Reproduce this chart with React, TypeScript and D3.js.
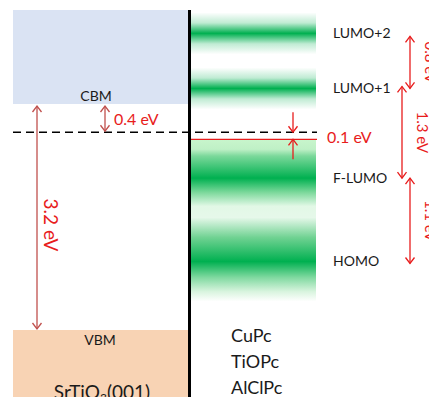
import React from "react";
import * as d3 from "d3";

// ---- data (energies in eV relative to the Fermi level, dashed line) ----
const substrateLevels = ["CBM", "VBM"];
const substrateEnergies = [0.4, -2.8];
const fermiEnergy = 0;
const onsetEnergy = -0.1; // F-LUMO onset (red line)
const orbitalNames = ["LUMO+2", "LUMO+1", "F-LUMO", "HOMO"];
const orbitalEnergies = [1.4, 0.62, -0.65, -1.83];
const gapLabels = ["0.8 eV", "1.3 eV", "1.1 eV"];
const substrateGapLabel = "3.2 eV";
const cbmOffsetLabel = "0.4 eV";
const onsetLabel = "0.1 eV";
const moleculeNames = ["CuPc", "TiOPc", "AlClPc"];

const W = 429;
const H = 397;
const FONT = "Lato, 'Open Sans', sans-serif";
const RED = "#e81c1c";
const DARKRED = "#c0504d";
const GREEN = "#00b050";
const INK = "#1a1a1a";

const y = d3
  .scaleLinear()
  .domain([substrateEnergies[0], substrateEnergies[1]])
  .range([104, 330]);

function Head({ x, yy, dir, color }: { x: number; yy: number; dir: 1 | -1; color: string }) {
  // dir = -1 -> points up, 1 -> points down
  const p = d3.path();
  p.moveTo(x - 4.5, yy - dir * 6);
  p.lineTo(x, yy);
  p.lineTo(x + 4.5, yy - dir * 6);
  return <path d={p.toString()} fill="none" stroke={color} strokeWidth={1.3} />;
}

function DoubleArrow({ x, y1, y2, color }: { x: number; y1: number; y2: number; color: string }) {
  return (
    <g>
      <line x1={x} x2={x} y1={y1} y2={y2} stroke={color} strokeWidth={1.3} />
      <Head x={x} yy={y1} dir={-1} color={color} />
      <Head x={x} yy={y2} dir={1} color={color} />
    </g>
  );
}

export default function App() {
  const yCBM = y(substrateEnergies[0]);
  const yVBM = y(substrateEnergies[1]);
  const yF = y(fermiEnergy);
  const yOn = y(onsetEnergy);
  const yO = orbitalEnergies.map((e) => y(e));
  const bandHalf = 21;

  const lowTop = yOn;
  const lowBot = yO[3] + 40;
  const frac = (v: number) => (v - lowTop) / (lowBot - lowTop);

  const lowStops: [number, string][] = [
    [lowTop, "#c8f5cc"],
    [lowTop + 10, "#bff0c6"],
    [yO[2] - 22, "#7ad89a"],
    [yO[2], GREEN],
    [yO[2] + 14, "#7ad89a"],
    [yO[2] + 28, "#e2f8e6"],
    [yO[3] - 44, "#e6f8ea"],
    [yO[3] - 24, "#70d292"],
    [yO[3], GREEN],
    [yO[3] + 16, "#80d9a0"],
    [yO[3] + 30, "#d8f4de"],
    [lowBot, "#ffffff"],
  ];

  const gx0 = 191;
  const gx1 = 316;
  const arrowX = [410, 402, 410];
  const labelX = [425, 417, 425];

  return (
    <svg width={W} height={H} style={{ position: "absolute", left: 0, top: 0 }} fontFamily={FONT}>
      <defs>
        <linearGradient id="band" x1="0" x2="0" y1="0" y2="1">
          <stop offset="0" stopColor={GREEN} stopOpacity={0} />
          <stop offset="0.25" stopColor={GREEN} stopOpacity={0.25} />
          <stop offset="0.5" stopColor={GREEN} stopOpacity={1} />
          <stop offset="0.75" stopColor={GREEN} stopOpacity={0.25} />
          <stop offset="1" stopColor={GREEN} stopOpacity={0} />
        </linearGradient>
        <linearGradient id="low" x1="0" x2="0" y1="0" y2="1">
          {lowStops.map(([v, c], i) => (
            <stop key={i} offset={frac(v)} stopColor={c} />
          ))}
        </linearGradient>
      </defs>
      <rect width={W} height={H} fill="#fff" />

      {/* substrate */}
      <rect x={13} y={10} width={176} height={yCBM - 10} fill="#dae3f3" />
      <rect x={13} y={yVBM} width={176} height={H - yVBM} fill="#f8d3b4" />
      <text x={96} y={yCBM - 3} textAnchor="middle" fontSize={14} fill={INK}>
        {substrateLevels[0]}
      </text>
      <text x={100} y={yVBM + 15} textAnchor="middle" fontSize={14} fill={INK}>
        {substrateLevels[1]}
      </text>
      <text x={102} y={H + 2} textAnchor="middle" fontSize={19} fill={INK}>
        SrTiO<tspan fontSize={12} dy={3}>3</tspan>
        <tspan dy={-3}>(001)</tspan>
      </text>

      {/* molecular bands */}
      {yO.slice(0, 2).map((yy, i) => (
        <rect key={i} x={gx0} y={yy - bandHalf} width={gx1 - gx0} height={bandHalf * 2} fill="url(#band)" />
      ))}
      <rect x={gx0} y={lowTop} width={gx1 - gx0} height={lowBot - lowTop} fill="url(#low)" />
      <line x1={gx0} x2={317} y1={yOn} y2={yOn} stroke={RED} strokeWidth={1.2} />

      {/* black interface line */}
      <line x1={189.5} x2={189.5} y1={10} y2={H} stroke="#000" strokeWidth={3} />

      {/* Fermi level */}
      <line x1={13} x2={317} y1={yF} y2={yF} stroke="#000" strokeWidth={1.3} strokeDasharray="8,5" />

      {/* 3.2 eV */}
      <DoubleArrow x={37} y1={yCBM + 2} y2={yVBM - 1} color={DARKRED} />
      <text
        transform={`translate(44,${(yCBM + yVBM) / 2 + 8}) rotate(90)`}
        textAnchor="middle"
        fontSize={19}
        fill={RED}
      >
        {substrateGapLabel}
      </text>

      {/* 0.4 eV */}
      <DoubleArrow x={105} y1={yCBM + 2} y2={yF - 1} color={DARKRED} />
      <text x={114} y={yCBM + 21} fontSize={16} fill={RED}>
        {cbmOffsetLabel}
      </text>

      {/* 0.1 eV */}
      <line x1={293} x2={293} y1={yF - 20} y2={yF} stroke={RED} strokeWidth={1.3} />
      <Head x={293} yy={yF} dir={1} color={RED} />
      <line x1={293} x2={293} y1={yOn} y2={yOn + 20} stroke={RED} strokeWidth={1.3} />
      <Head x={293} yy={yOn} dir={-1} color={RED} />
      <text x={327} y={yF + 11} fontSize={16} fill={RED}>
        {onsetLabel}
      </text>

      {/* orbital labels */}
      {orbitalNames.map((n, i) => (
        <text key={n} x={333} y={yO[i] + 5} fontSize={14} fill={INK}>
          {n}
        </text>
      ))}

      {/* gaps between orbitals */}
      {gapLabels.map((g, i) => {
        const y1 = yO[i] + (i === 0 ? 3 : i === 1 ? -2 : 0);
        const y2 = yO[i + 1] + (i === 2 ? 2 : 0);
        return (
          <g key={g}>
            <DoubleArrow x={arrowX[i]} y1={y1} y2={y2} color={RED} />
            <text
              transform={`translate(${labelX[i]},${(y1 + y2) / 2}) rotate(90)`}
              textAnchor="middle"
              fontSize={15}
              fill={RED}
            >
              {g}
            </text>
          </g>
        );
      })}

      {/* molecule names */}
      {moleculeNames.map((m, i) => (
        <text key={m} x={231} y={342 + i * 26} fontSize={18} fill={INK}>
          {m}
        </text>
      ))}
    </svg>
  );
}
